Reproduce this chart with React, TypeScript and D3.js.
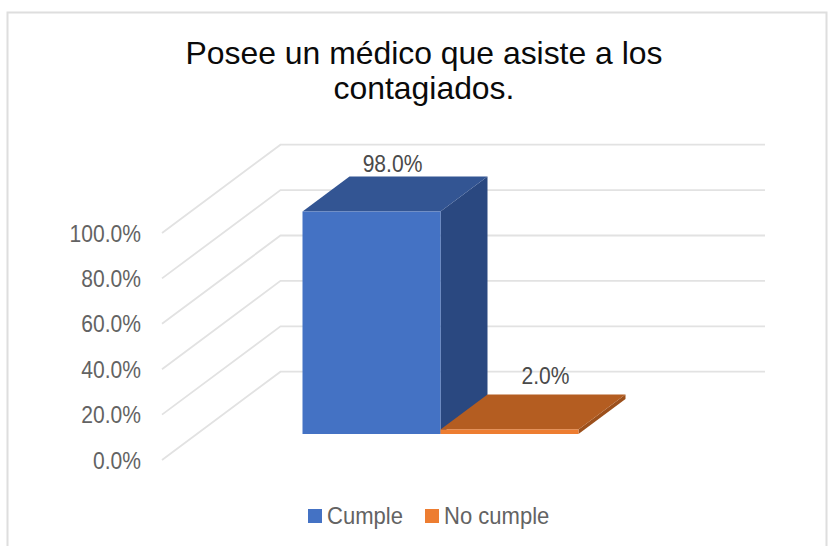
import React from "react";
import * as d3 from "d3";

const titleLines = ["Posee un médico que asiste a los", "contagiados."];
const series = ["Cumple", "No cumple"];
const values = [98, 2];
const valueLabels = ["98.0%", "2.0%"];
const ticks = [0, 20, 40, 60, 80, 100];
const frontColors = ["#4472c4", "#ed7d31"];
const topColors = ["#335593", "#b45d21"];
const sideColors = ["#2a4880", "#9c501c"];

const W = 829, H = 546;
const floorFront = 460, axisTop = 233;
const wallX0 = 162, wallDx = 118.5, wallDy = 88.3, wallEnd = 765;
const barDx = 47, barDy = 35;
const floorOffset = 26;

const y = d3.scaleLinear().domain([0, 100]).range([floorFront, axisTop]);
const x = d3.scaleBand<string>().domain(series).range([302.5, 578.5]).padding(0);
const fmt = (v: number) => d3.format(".1f")(v) + "%";
const FONT = "'Liberation Sans', Arial, sans-serif";
const NARROW = 0.86;

function Narrow({ x: px, y: py, anchor, fill, sx = NARROW, children }: any) {
  return (
    <text transform={`translate(${px},${py}) scale(${sx},1)`} textAnchor={anchor} fontFamily={FONT} fontSize={24.5} fill={fill}>
      {children}
    </text>
  );
}

export default function App() {
  const bw = x.bandwidth();
  const base = floorFront - floorOffset;
  const gridPath = d3.line<[number, number]>();
  return (
    <div style={{ position: "absolute", left: 0, top: 0, width: W, height: H }}>
      <svg width={W} height={H} style={{ display: "block", background: "#fff" }}>
        <path d={`M7.5,${H}V12.5H826.5V${H}`} fill="none" stroke="#dedede" strokeWidth={2} />
        {titleLines.map((t, i) => (
          <text key={t} x={424} y={64 + i * 35} textAnchor="middle" fontFamily={FONT} fontSize={31.9} fill="#0a0a0a">{t}</text>
        ))}
        {ticks.map(t => {
          const yy = y(t);
          return (
            <g key={t}>
              <path
                d={gridPath([[wallX0, yy], [wallX0 + wallDx, yy - wallDy], [wallEnd, yy - wallDy]]) || ""}
                fill="none" stroke="#e2e2e2" strokeWidth={1.8}
              />
              <Narrow x={141} y={yy + 8.5} anchor="end" fill="#636363">{fmt(t)}</Narrow>
            </g>
          );
        })}
        {series.map((s, i) => {
          const x0 = x(s) as number;
          const x1 = x0 + bw;
          const top = base - (y(0) - y(values[i]));
          return (
            <g key={s}>
              <path d={`M${x1},${top}L${x1 + barDx},${top - barDy}V${base - barDy}L${x1},${base}Z`} fill={sideColors[i]} />
              <path d={`M${x0},${top}L${x0 + barDx},${top - barDy}H${x1 + barDx}L${x1},${top}Z`} fill={topColors[i]} />
              <rect x={x0} y={top} width={bw} height={base - top} fill={frontColors[i]} />
            </g>
          );
        })}
        {series.map((s, i) => {
          const x0 = x(s) as number;
          const top = base - (y(0) - y(values[i]));
          const lx = i === 0 ? x0 + 90 : x0 + 105;
          const ly = i === 0 ? top - 40 : top - 45;
          return <Narrow key={s} x={lx} y={ly} anchor="middle" fill="#4a4a4a">{valueLabels[i]}</Narrow>;
        })}
        {series.map((s, i) => {
          const lx = [308, 425][i];
          return (
            <g key={s}>
              <rect x={lx} y={509} width={14} height={14} fill={frontColors[i]} />
              <Narrow x={lx + 19} y={524} anchor="start" fill="#636363" sx={0.9}>{s}</Narrow>
            </g>
          );
        })}
      </svg>
    </div>
  );
}
